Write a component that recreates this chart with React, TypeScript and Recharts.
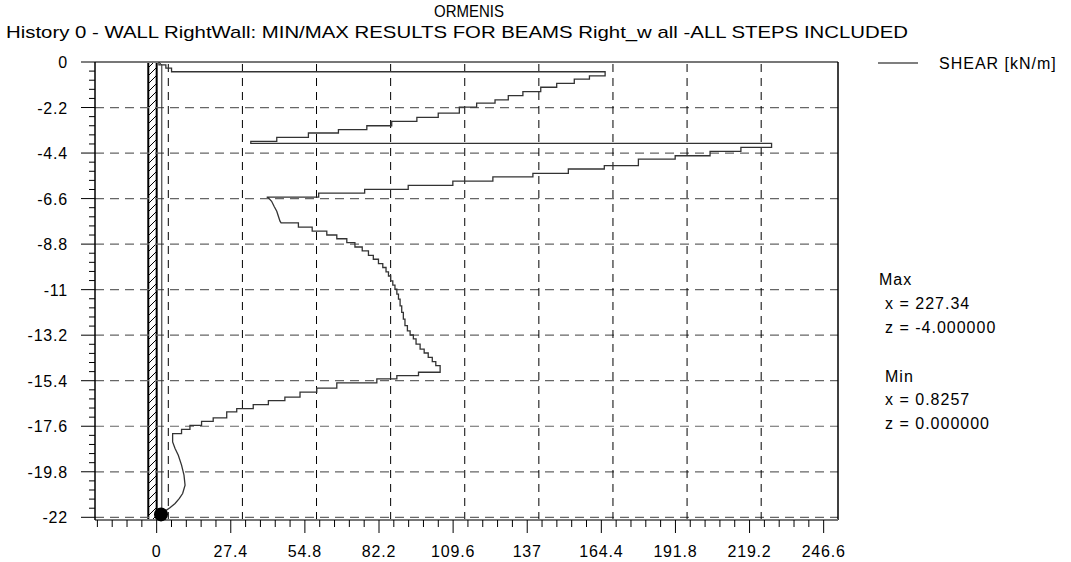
import React from 'react';
import { LineChart, Line, XAxis, YAxis, ReferenceLine, ReferenceArea, ReferenceDot } from 'recharts';

// ---- Tick labels / axes values ----
const xMajorTicks = [0, 27.4, 54.8, 82.2, 109.6, 137, 164.4, 191.8, 219.2, 246.6];
const xTickLabels = ['0', '27.4', '54.8', '82.2', '109.6', '137', '164.4', '191.8', '219.2', '246.6'];
const yMajorTicks = [0, -2.2, -4.4, -6.6, -8.8, -11, -13.2, -15.4, -17.6, -19.8, -22];
const yTickLabels = ['0', '-2.2', '-4.4', '-6.6', '-8.8', '-11', '-13.2', '-15.4', '-17.6', '-19.8', '-22'];
const xGridValues = [4.3, 31.7, 59.1, 86.5, 113.9, 141.3, 168.7, 196.1, 223.5];
const xDomain: [number, number] = [-22.8, 251.9];
const yDomain: [number, number] = [-22.13, 0];

// ---- Series: SHEAR [kN/m] envelope (x = shear, z = depth) ----
const maxEnvelope: [number, number][] = [
  [0.83, 0], [0.83, -0.14], [3.4, -0.14], [3.4, -0.3], [5.5, -0.3], [5.5, -0.47],
  [165.8, -0.47], [165.8, -0.67],
  [160.0, -0.67], [160.0, -0.83], [154.4, -0.83], [154.4, -1.03],
  [147.9, -1.03], [147.9, -1.22], [142.0, -1.22], [142.0, -1.43],
  [135.4, -1.43], [135.4, -1.62], [130.0, -1.62], [130.0, -1.83],
  [125.1, -1.83], [125.1, -1.99], [118.3, -1.99], [118.3, -2.18],
  [111.9, -2.18], [111.9, -2.47], [104.1, -2.47], [104.1, -2.68],
  [96.2, -2.68], [96.2, -2.87], [86.9, -2.87], [86.9, -3.08],
  [77.7, -3.08], [77.7, -3.27], [67.2, -3.27], [67.2, -3.43],
  [56.1, -3.43], [56.1, -3.64], [44.4, -3.64], [44.4, -3.84],
  [34.8, -3.84], [34.8, -3.93],
  [227.34, -3.93], [227.34, -4.13],
  [216.0, -4.13], [216.0, -4.32], [204.6, -4.32], [204.6, -4.53],
  [191.7, -4.53], [191.7, -4.69], [178.1, -4.69], [178.1, -5.01],
  [165.5, -5.01], [165.5, -5.17], [152.2, -5.17], [152.2, -5.38],
  [139.1, -5.38], [139.1, -5.55], [124.3, -5.55], [124.3, -5.76],
  [109.5, -5.76], [109.5, -5.96], [93.0, -5.96], [93.0, -6.15],
  [76.9, -6.15], [76.9, -6.34], [59.9, -6.34], [59.9, -6.53],
  [40.7, -6.53],
  [41.3, -6.56], [42.5, -6.73], [43.4, -6.97], [44.4, -7.21], [45.0, -7.45], [45.6, -7.69], [46.0, -7.77],
  [52.4, -7.77], [52.4, -7.98], [57.5, -7.98], [57.5, -8.17],
  [62.9, -8.17], [62.9, -8.36], [66.6, -8.36], [66.6, -8.54],
  [70.3, -8.54], [70.3, -8.73], [73.3, -8.73], [73.3, -8.94],
  [76.0, -8.94], [76.0, -9.13], [78.3, -9.13], [78.3, -9.34],
  [80.1, -9.34], [80.1, -9.53], [82.0, -9.53], [82.0, -9.74],
  [83.6, -9.74], [83.6, -9.93], [84.8, -9.93], [84.8, -10.14],
  [85.7, -10.14], [85.7, -10.34], [86.5, -10.34], [86.5, -10.58],
  [87.3, -10.58], [87.3, -10.78], [88.1, -10.78], [88.1, -10.98],
  [88.8, -10.98], [88.8, -11.22], [89.4, -11.22], [89.4, -11.46],
  [90.0, -11.46], [90.0, -11.78], [90.6, -11.78], [90.6, -12.1],
  [91.2, -12.1], [91.2, -12.42], [91.8, -12.42], [91.8, -12.74],
  [92.7, -12.74], [92.7, -12.99], [93.7, -12.99], [93.7, -13.19],
  [94.9, -13.19], [94.9, -13.38], [95.9, -13.38], [95.9, -13.63],
  [97.4, -13.63], [97.4, -13.87], [98.9, -13.87], [98.9, -14.06],
  [100.4, -14.06], [100.4, -14.27], [101.9, -14.27], [101.9, -14.48],
  [103.2, -14.48], [103.2, -14.67], [104.8, -14.67], [104.8, -14.99],
  [96.8, -14.99], [96.8, -15.15], [88.8, -15.15], [88.8, -15.31],
  [81.4, -15.31], [81.4, -15.5], [66.6, -15.5], [66.6, -15.76],
  [59.2, -15.76], [59.2, -15.95], [53.0, -15.95], [53.0, -16.19],
  [47.4, -16.19], [47.4, -16.36], [41.3, -16.36], [41.3, -16.56],
  [35.7, -16.56], [35.7, -16.75], [29.6, -16.75], [29.6, -16.91],
  [25.9, -16.91], [25.9, -17.2], [20.9, -17.2], [20.9, -17.36],
  [16.6, -17.36], [16.6, -17.56], [12.3, -17.56], [12.3, -17.75],
  [9.2, -17.75], [9.2, -17.96], [5.9, -17.96], [5.9, -18.17],
  [5.9, -18.36], [6.8, -18.68], [8.0, -19.0], [9.2, -19.48], [10.1, -19.96], [10.5, -20.45],
  [9.6, -20.85], [8.4, -21.09], [6.8, -21.33], [4.9, -21.54], [3.1, -21.7], [1.6, -21.86],
];
const minEnvelope: [number, number][] = [
  [0.83, 0], [1.9, -0.15], [1.9, -21.6], [1.6, -21.86],
];
const toePoint = { x: 1.6, z: -21.86 };
const wallBand = { x1: -3.1, x2: 0 };

const maxInfo = { label: 'Max', x: 'x = 227.34', z: 'z = -4.000000' };
const minInfo = { label: 'Min', x: 'x = 0.8257', z: 'z = 0.000000' };
const legendLabel = 'SHEAR [kN/m]';
const titleText = 'ORMENIS';
const subtitleText = 'History 0 - WALL RightWall: MIN/MAX RESULTS FOR BEAMS Right_w all -ALL STEPS INCLUDED';

const maxData = maxEnvelope.map(([x, z]) => ({ x, z }));
const minData = minEnvelope.map(([x, z]) => ({ x, z }));

const FONT = '"Liberation Sans", Arial, sans-serif';

// minor ticks derived from major step
const xStep = 27.4 / 5;
const xAllTicks: number[] = [];
for (let i = -4; i <= 50; i++) {
  const v = Math.round(i * xStep * 10000) / 10000;
  if (v >= xDomain[0] && v <= xDomain[1]) xAllTicks.push(v);
}
const yStep = 2.2 / 5;
const yAllTicks: number[] = [];
for (let i = 0; i <= 50; i++) {
  const v = -Math.round(i * yStep * 10000) / 10000;
  if (v >= -22) yAllTicks.push(v);
}

const findIdx = (arr: number[], v: number) => arr.findIndex((t) => Math.abs(t - v) < 1e-6);

const XTick = (props: any) => {
  const { x, y, payload } = props;
  const idx = findIdx(xMajorTicks, payload.value);
  const major = idx >= 0;
  return (
    <g>
      <line x1={x} x2={x} y1={y} y2={y + (major ? 13 : 7)} stroke="#000" strokeWidth={1} />
      {major && (
        <text x={x} y={y + 37} textAnchor="middle" fontFamily={FONT} fontSize={16} letterSpacing={0.8} fill="#000">
          {xTickLabels[idx]}
        </text>
      )}
    </g>
  );
};

const YTick = (props: any) => {
  const { x, y, payload } = props;
  const idx = findIdx(yMajorTicks, payload.value);
  const major = idx >= 0;
  return (
    <g>
      <line x1={x - (major ? 14 : 6)} x2={x} y1={y} y2={y} stroke="#000" strokeWidth={1} />
      {major && (
        <text x={x - 27} y={y + 6} textAnchor="end" fontFamily={FONT} fontSize={16} letterSpacing={0.8} fill="#000">
          {yTickLabels[idx]}
        </text>
      )}
    </g>
  );
};

const WallShape = (props: any) => {
  const { x, y, width, height } = props;
  return (
    <g>
      <defs>
        <pattern id="wallHatch" patternUnits="userSpaceOnUse" width={8} height={8}>
          <line x1={0} y1={8} x2={8} y2={0} stroke="#000" strokeWidth={1} />
          <line x1={-2} y1={2} x2={2} y2={-2} stroke="#000" strokeWidth={1} />
          <line x1={6} y1={10} x2={10} y2={6} stroke="#000" strokeWidth={1} />
        </pattern>
      </defs>
      <rect x={x} y={y} width={width} height={height} fill="#fff" />
      <rect x={x} y={y} width={width} height={height} fill="url(#wallHatch)" stroke="#000" strokeWidth={2} />
    </g>
  );
};

const textStyle = { fontFamily: FONT, fontSize: 16, letterSpacing: 1 } as const;

export default function App() {
  return (
    <div style={{ position: 'absolute', left: 0, top: 0, width: 1071, height: 562, background: '#fff' }}>
      <LineChart width={1071} height={562} margin={{ top: 62, right: 233, bottom: 0, left: 0 }}>
        <XAxis
          dataKey="x"
          type="number"
          domain={xDomain}
          allowDataOverflow
          ticks={xAllTicks}
          interval={0}
          tick={<XTick />}
          tickLine={false}
          tickSize={0}
          tickMargin={0}
          height={42}
          axisLine={{ stroke: '#777', strokeWidth: 2 }}
        />
        <YAxis
          dataKey="z"
          type="number"
          domain={yDomain}
          allowDataOverflow
          ticks={yAllTicks}
          interval={0}
          tick={<YTick />}
          tickLine={false}
          tickSize={0}
          tickMargin={0}
          width={95}
          axisLine={{ stroke: '#000', strokeWidth: 1.5 }}
        />
        {yMajorTicks.filter((v) => v !== 0).map((v) => (
          <ReferenceLine key={'h' + v} y={v} stroke="#666" strokeWidth={1.2} strokeDasharray="9 6" />
        ))}
        {xGridValues.map((v) => (
          <ReferenceLine key={'v' + v} x={v} stroke="#000" strokeWidth={1} strokeDasharray="8 6" />
        ))}
        <ReferenceLine y={0} stroke="#777" strokeWidth={2} />
        <ReferenceLine x={xDomain[1]} stroke="#000" strokeWidth={1.5} />
        <ReferenceArea x1={wallBand.x1} x2={wallBand.x2} y1={yDomain[0]} y2={0} shape={<WallShape />} />
        <Line data={minData} dataKey="z" type="linear" dot={false} stroke="#222" strokeWidth={1} isAnimationActive={false} />
        <Line data={maxData} dataKey="z" type="linear" dot={false} stroke="#333" strokeWidth={1.3} isAnimationActive={false} />
        <ReferenceDot x={toePoint.x} y={toePoint.z} r={7} fill="#000" stroke="none" />
      </LineChart>
      <svg width={1071} height={562} style={{ position: 'absolute', left: 0, top: 0, pointerEvents: 'none' }}>
        <text x={469} y={17} textAnchor="middle" fontFamily={FONT} fontSize={17} textLength={70} lengthAdjust="spacingAndGlyphs">
          {titleText}
        </text>
        <text x={6} y={38} fontFamily={FONT} fontSize={17} textLength={902} lengthAdjust="spacingAndGlyphs">
          {subtitleText}
        </text>
        <line x1={878} x2={918} y1={63} y2={63} stroke="#555" strokeWidth={1.3} />
        <text x={939} y={69} {...textStyle}>{legendLabel}</text>
        <text x={879} y={285} {...textStyle}>{maxInfo.label}</text>
        <text x={885} y={309} {...textStyle}>{maxInfo.x}</text>
        <text x={885} y={333} {...textStyle}>{maxInfo.z}</text>
        <text x={885} y={382} {...textStyle}>{minInfo.label}</text>
        <text x={885} y={405} {...textStyle}>{minInfo.x}</text>
        <text x={885} y={429} {...textStyle}>{minInfo.z}</text>
      </svg>
    </div>
  );
}
